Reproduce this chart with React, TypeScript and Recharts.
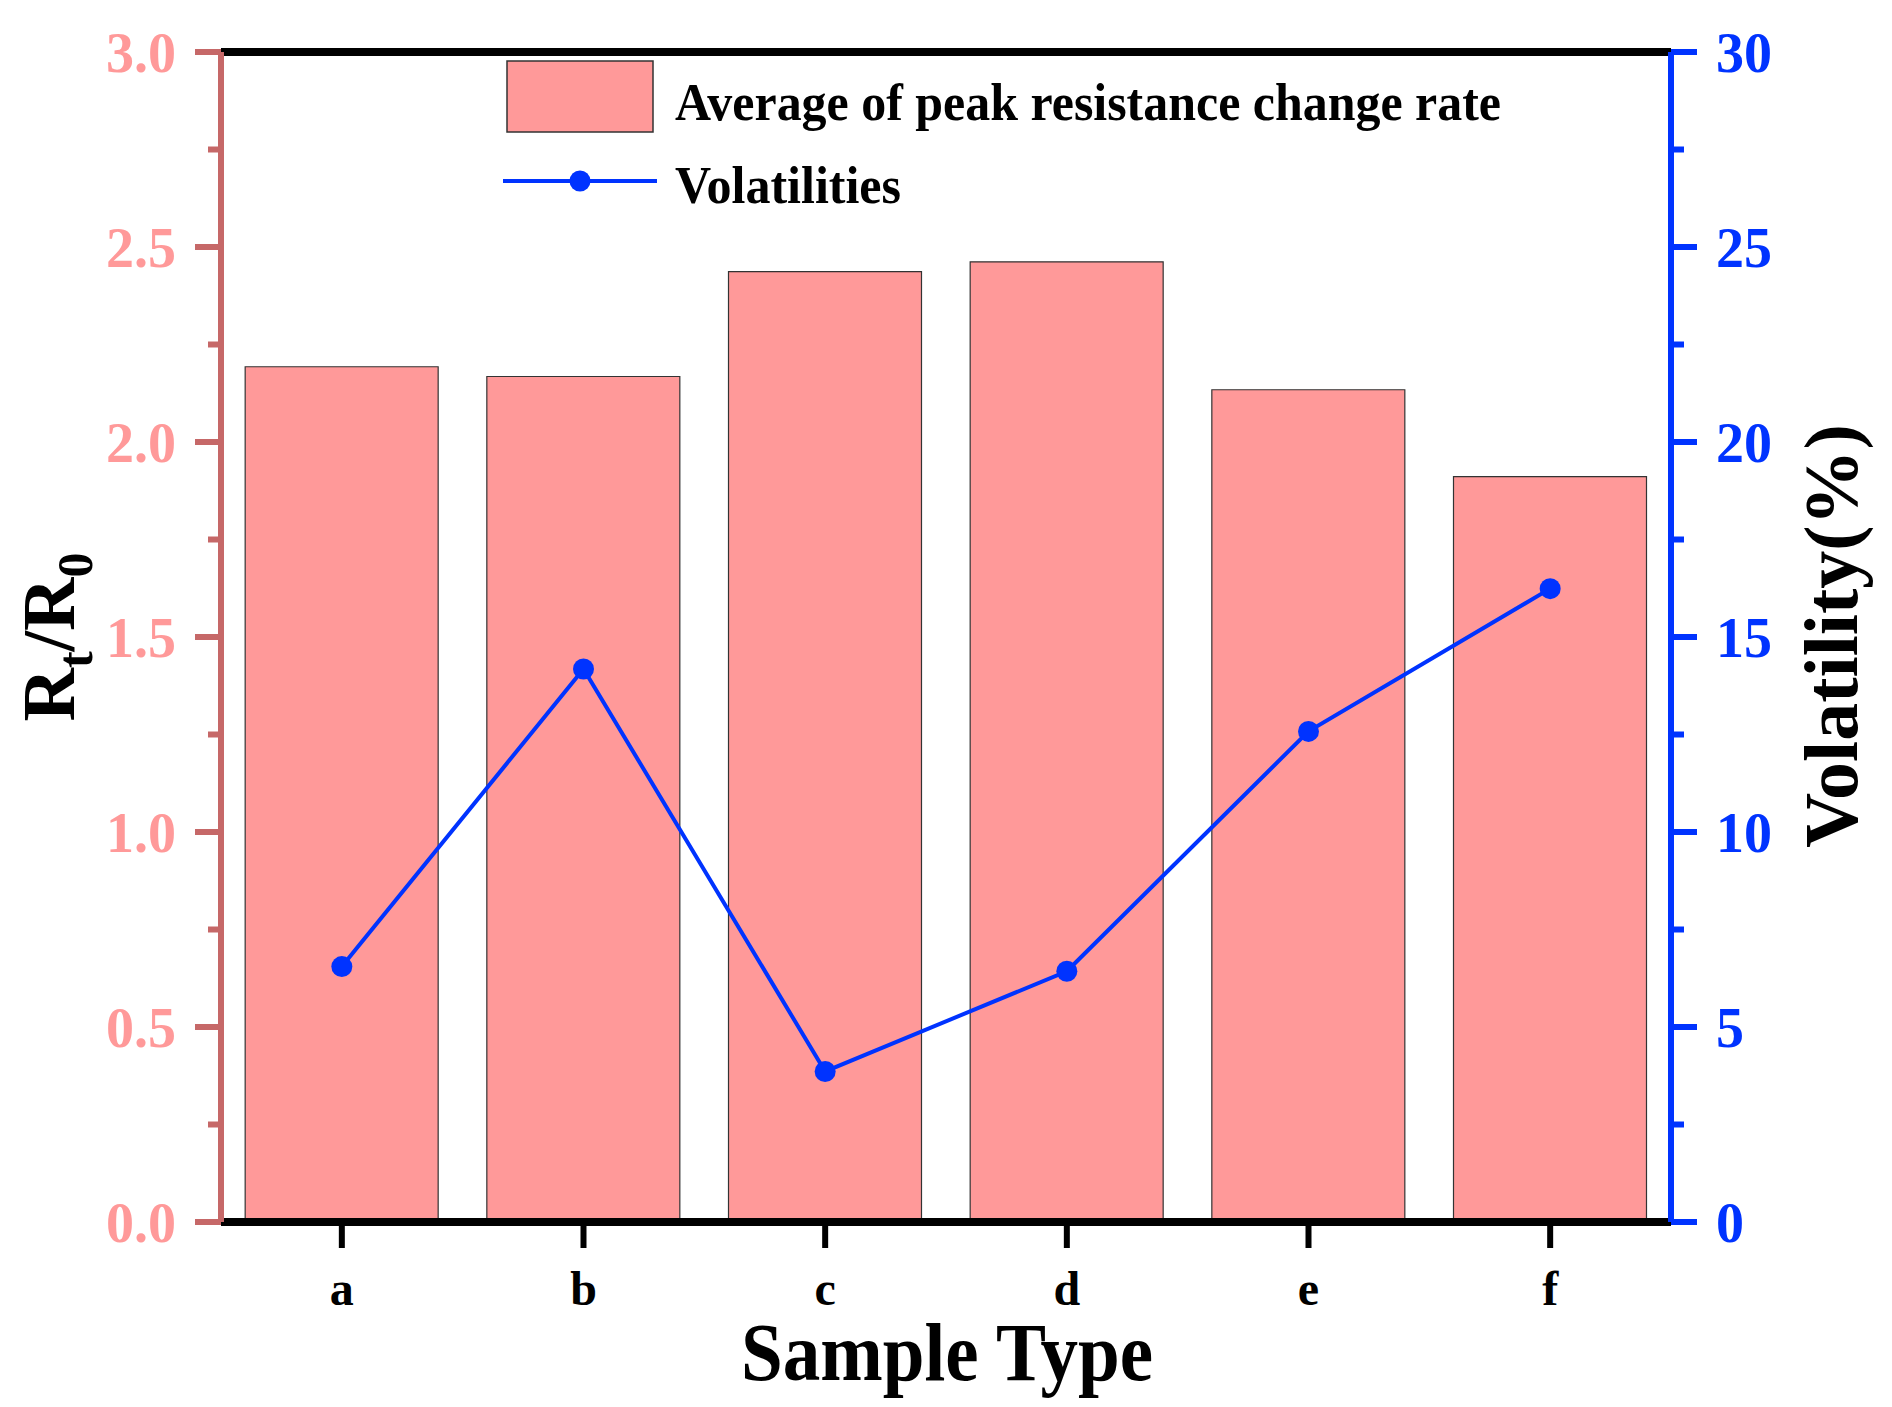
import React from 'react';
import {
  ComposedChart,
  Bar,
  Line,
  XAxis,
  YAxis,
  ReferenceLine,
} from 'recharts';

const samples = ['a', 'b', 'c', 'd', 'e', 'f'];
const peakRate = [2.193, 2.168, 2.437, 2.462, 2.134, 1.911];
const volatility = [6.55, 14.18, 3.86, 6.43, 12.58, 16.24];
const leftTicks = [0, 0.25, 0.5, 0.75, 1, 1.25, 1.5, 1.75, 2, 2.25, 2.5, 2.75, 3];
const rightTicks = [0, 2.5, 5, 7.5, 10, 12.5, 15, 17.5, 20, 22.5, 25, 27.5, 30];

const FONT = '"Liberation Serif", "Times New Roman", serif';
const LEFT_AXIS = '#C66868';
const PINK = '#FF9999';
const BLUE = '#0033FF';

const data = samples.map((s, i) => ({
  name: s,
  rate: peakRate[i],
  vol: volatility[i],
}));

// left axis: long ticks with labels every 0.5, short ones in between
const LeftTick = (props: any) => {
  const { x, y, payload } = props;
  const v = payload.value;
  const major = Math.abs(v * 2 - Math.round(v * 2)) < 1e-6;
  return (
    <g>
      <line x1={x - (major ? 26 : 13)} y1={y} x2={x} y2={y} stroke={LEFT_AXIS} strokeWidth={6} />
      {major && (
        <text
          x={x - 45}
          y={y}
          dy="0.35em"
          textAnchor="end"
          fill={PINK}
          fontFamily={FONT}
          fontWeight="bold"
          fontSize={56}
        >
          {v.toFixed(1)}
        </text>
      )}
    </g>
  );
};

const RightTick = (props: any) => {
  const { x, y, payload } = props;
  const v = payload.value;
  const major = Math.abs(v / 5 - Math.round(v / 5)) < 1e-6;
  return (
    <g>
      <line x1={x} y1={y} x2={x + (major ? 26 : 13)} y2={y} stroke={BLUE} strokeWidth={6} />
      {major && (
        <text
          x={x + 45}
          y={y}
          dy="0.35em"
          textAnchor="start"
          fill={BLUE}
          fontFamily={FONT}
          fontWeight="bold"
          fontSize={56}
        >
          {v}
        </text>
      )}
    </g>
  );
};

const BottomTick = (props: any) => {
  const { x, y, payload } = props;
  return (
    <text
      x={x}
      y={y}
      dy={57}
      textAnchor="middle"
      fill="#000"
      fontFamily={FONT}
      fontWeight="bold"
      fontSize={48}
    >
      {payload.value}
    </text>
  );
};

export default function App() {
  return (
    <div style={{ position: 'absolute', left: 0, top: 0, width: 1892, height: 1407, background: '#fff' }}>
      <ComposedChart
        width={1892}
        height={1407}
        data={data}
        margin={{ top: 52, right: 21, left: 21, bottom: 65 }}
        barCategoryGap="10%"
      >
        <XAxis
          dataKey="name"
          axisLine={{ stroke: '#000', strokeWidth: 8 }}
          tickLine={{ stroke: '#000', strokeWidth: 6 }}
          tickSize={26}
          tickMargin={0}
          height={120}
          tick={<BottomTick />}
          interval={0}
        />
        <YAxis
          yAxisId="left"
          orientation="left"
          width={200}
          domain={[0, 3]}
          ticks={leftTicks}
          interval={0}
          axisLine={{ stroke: LEFT_AXIS, strokeWidth: 6 }}
          tickLine={false}
          tickSize={0}
          tickMargin={0}
          tick={<LeftTick />}
        />
        <YAxis
          yAxisId="right"
          orientation="right"
          width={200}
          domain={[0, 30]}
          ticks={rightTicks}
          interval={0}
          axisLine={{ stroke: BLUE, strokeWidth: 6 }}
          tickLine={false}
          tickSize={0}
          tickMargin={0}
          tick={<RightTick />}
        />
        <ReferenceLine yAxisId="left" y={3} stroke="#000" strokeWidth={8} />
        <Bar
          yAxisId="left"
          dataKey="rate"
          fill={PINK}
          stroke="#333"
          strokeWidth={1.2}
          isAnimationActive={false}
        />
        <Line
          yAxisId="right"
          dataKey="vol"
          stroke={BLUE}
          strokeWidth={4}
          dot={{ r: 10.5, fill: BLUE, stroke: BLUE, strokeWidth: 0 }}
          activeDot={false}
          isAnimationActive={false}
        />
      </ComposedChart>
      <svg
        width={1892}
        height={1407}
        style={{ position: 'absolute', left: 0, top: 0, pointerEvents: 'none' }}
      >
        {/* legend */}
        <g transform="translate(490,50)">
          <rect x={17} y={11} width={146} height={71} fill={PINK} stroke="#333" strokeWidth={1.5} />
          <text
            x={185}
            y={70}
            fontFamily={FONT}
            fontWeight="bold"
            fontSize={52}
            textLength={826}
            lengthAdjust="spacingAndGlyphs"
          >
            Average of peak resistance change rate
          </text>
          <line x1={13} y1={131} x2={167} y2={131} stroke={BLUE} strokeWidth={4} />
          <circle cx={90} cy={131} r={10.5} fill={BLUE} />
          <text
            x={185}
            y={153}
            fontFamily={FONT}
            fontWeight="bold"
            fontSize={52}
            textLength={226}
            lengthAdjust="spacingAndGlyphs"
          >
            Volatilities
          </text>
        </g>
        {/* axis titles */}
        <text
          transform="translate(74,637) rotate(-90)"
          textAnchor="middle"
          fontFamily={FONT}
          fontWeight="bold"
          fontSize={74}
          fill="#000"
        >
          R<tspan fontSize={50} dy={18}>t</tspan>
          <tspan dy={-18}>/R</tspan>
          <tspan fontSize={50} dy={18}>0</tspan>
        </text>
        <text
          transform="translate(1857,636) rotate(-90)"
          textAnchor="middle"
          fontFamily={FONT}
          fontWeight="bold"
          fontSize={76}
          fill="#000"
        >
          Volatility(%)
        </text>
        <text
          x={947}
          y={1380}
          textAnchor="middle"
          fontFamily={FONT}
          fontWeight="bold"
          fontSize={82}
          textLength={412}
          lengthAdjust="spacingAndGlyphs"
          fill="#000"
        >
          Sample Type
        </text>
      </svg>
    </div>
  );
}
